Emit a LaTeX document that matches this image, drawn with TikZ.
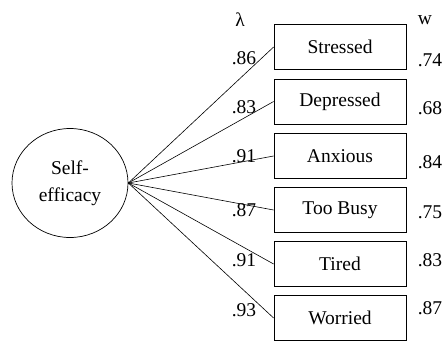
\documentclass[tikz,border=0pt]{standalone}
\usepackage{fontspec}
\newfontfamily\figfont{Liberation Serif}
\usetikzlibrary{shapes.geometric}
\begin{document}
\begin{tikzpicture}[x=1pt,y=-1pt,
  font=\figfont\fontsize{19.5}{27}\selectfont,
  item/.style={draw, line width=0.8pt, minimum width=132pt, minimum height=45pt, inner sep=0pt},
  latent/.style={draw, ellipse, line width=0.7pt, minimum width=116pt, minimum height=109pt, inner sep=0pt, align=center},
  path/.style={line width=0.6pt},
  lbl/.style={inner sep=0pt}]
\useasboundingbox (0,0) rectangle (444,341);
\node[latent] (se) at (70,183) {Self-\\efficacy};
\node[item] (b1) at (340,47) {Stressed};
\node[item] (b2) at (340,101.5) {Depressed};
\node[item] (b3) at (340,156) {Anxious};
\node[item] (b4) at (340,210) {Too Busy};
\node[item] (b5) at (340,264) {Tired};
\node[item] (b6) at (340,318) {Worried};
\foreach \i in {1,...,6} \draw[path] (se.east) -- (b\i.west);
\node[lbl] (lam) at (240,20) {λ};
\node[lbl] (w) at (425,20) {w};
\node[lbl] (l1) at (244,58) {.86};
\node[lbl] (l2) at (244,107) {.83};
\node[lbl] (l3) at (244,156) {.91};
\node[lbl] (l4) at (244,210) {.87};
\node[lbl] (l5) at (244,260) {.91};
\node[lbl] (l6) at (244,310) {.93};
\node[lbl] (w1) at (430,60) {.74};
\node[lbl] (w2) at (430,108) {.68};
\node[lbl] (w3) at (430,162) {.84};
\node[lbl] (w4) at (430,212) {.75};
\node[lbl] (w5) at (430,260) {.83};
\node[lbl] (w6) at (430,308) {.87};
\end{tikzpicture}
\end{document}
